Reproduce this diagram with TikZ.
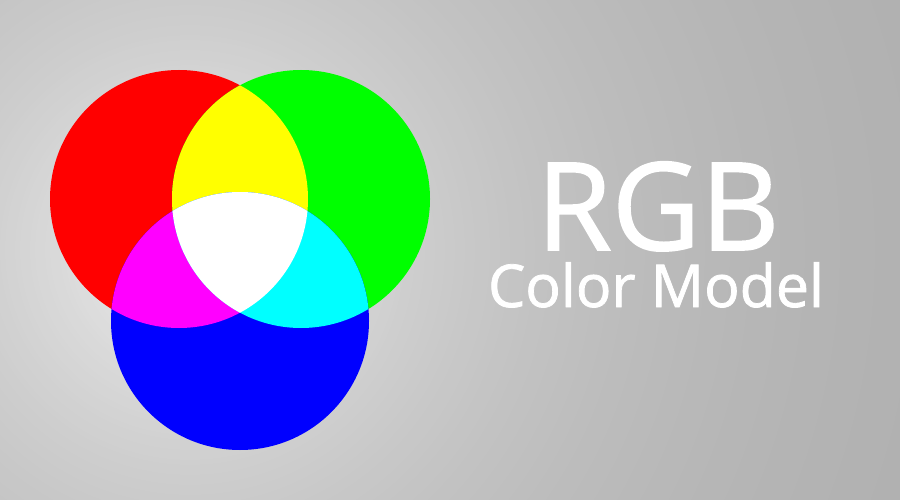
\documentclass[tikz,border=0pt]{standalone}
\usepackage{fontspec}
\setmainfont{Open Sans}
\newfontfamily\titlefont{Open Sans}[FakeBold=1.3]
\definecolor{pRed}{RGB}{255,0,0}
\definecolor{pGreen}{RGB}{0,255,0}
\definecolor{pBlue}{RGB}{0,0,255}
\definecolor{pYellow}{RGB}{255,255,0}
\definecolor{pMagenta}{RGB}{255,0,255}
\definecolor{pCyan}{RGB}{0,255,255}
\tikzset{
  title/.style={anchor=base, text=white, inner sep=0pt},
}
\begin{document}
\begin{tikzpicture}[x=1pt,y=-1pt]
\useasboundingbox (0,0) rectangle (900,500);
% background radial gradient
\begin{scope}
\clip (0,0) rectangle (900,500);
\foreach \r in {900,895,...,5} {
  \pgfmathtruncatemacro\g{170+72*exp(-\r/330)}
  \definecolor{bgc}{RGB}{\g,\g,\g}
  \fill[bgc] (190,250) circle (\r);
}
\end{scope}
\coordinate (R) at (179,199);
\coordinate (G) at (301,199);
\coordinate (B) at (240,321);
\def\rad{129}
\fill[pRed] (R) circle (\rad);
\fill[pGreen] (G) circle (\rad);
\fill[pBlue] (B) circle (\rad);
\begin{scope}
  \clip (R) circle (\rad);
  \fill[pYellow] (G) circle (\rad);
  \fill[pMagenta] (B) circle (\rad);
\end{scope}
\begin{scope}
  \clip (G) circle (\rad);
  \fill[pCyan] (B) circle (\rad);
\end{scope}
\begin{scope}
  \clip (R) circle (\rad);
  \clip (G) circle (\rad);
  \fill[white] (B) circle (\rad);
\end{scope}
\node[title, font=\titlefont\fontsize{122}{122}\selectfont] (rgb) at (658,250) {RGB};
\node[title, font=\titlefont\fontsize{59}{59}\selectfont] (cm) at (656,307) {Color Model};
\end{tikzpicture}
\end{document}
